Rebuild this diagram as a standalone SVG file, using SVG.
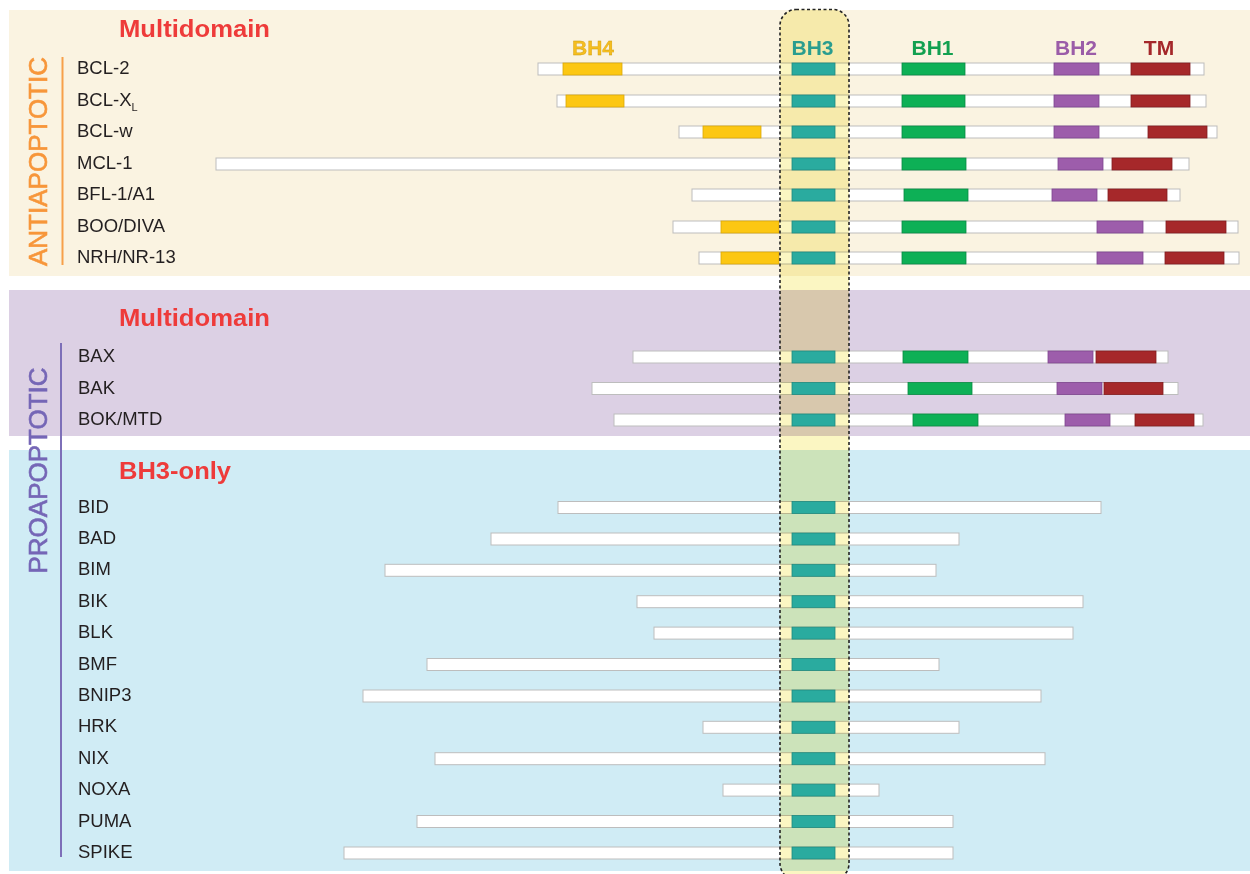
<svg xmlns="http://www.w3.org/2000/svg" width="1250" height="874" viewBox="0 0 1250 874">
<style>
.bar{fill:#fff;stroke:#bdbdbd;stroke-width:1}
.bh4{fill:#fcc713;stroke:#d9a80a;stroke-width:0.8}
.bh3{fill:#2aab9f;stroke:#1e8a80;stroke-width:0.8}
.bh1{fill:#0db056;stroke:#0a8a44;stroke-width:0.8}
.bh2{fill:#9d5dab;stroke:#7e4690;stroke-width:0.8}
.tm{fill:#a6282a;stroke:#831c1e;stroke-width:0.8}
.lbl{font-family:"Liberation Sans",Arial,sans-serif;font-size:18.5px;fill:#231f20}
.hdr{font-family:"Liberation Sans",Arial,sans-serif;font-size:24px;font-weight:bold;fill:#ee3b3a}
.dom{font-family:"Liberation Sans",Arial,sans-serif;font-size:21px;font-weight:bold;text-anchor:middle}
.side{font-family:"Liberation Sans",Arial,sans-serif;font-size:26px;text-anchor:middle;stroke-width:0.6}
</style>
<rect width="1250" height="874" fill="#fff"/>
<g id="panels">
<rect x="9" y="10" width="1241" height="266" fill="#faf3e1"/>
<rect x="9" y="290" width="1241" height="146" fill="#dcd0e4"/>
<rect x="9" y="450" width="1241" height="421" fill="#d0ecf5"/>
</g>
<g id="headers">
<text class="hdr" x="119" y="37" textLength="151" lengthAdjust="spacingAndGlyphs">Multidomain</text>
<text class="hdr" x="119" y="326" textLength="151" lengthAdjust="spacingAndGlyphs">Multidomain</text>
<text class="hdr" x="119" y="479" textLength="112" lengthAdjust="spacingAndGlyphs">BH3-only</text>
</g>
<g id="side-labels">
<line x1="62.5" y1="57" x2="62.5" y2="265" stroke="#f7a04a" stroke-width="2"/>
<text class="side" fill="#f7963a" stroke="#f7963a" transform="translate(46.5,161.5) rotate(-90)">ANTIAPOPTOTIC</text>
<line x1="61" y1="343" x2="61" y2="857" stroke="#7d6fb8" stroke-width="2"/>
<text class="side" fill="#7566b6" stroke="#7566b6" transform="translate(46.5,470.5) rotate(-90)">PROAPOPTOTIC</text>
</g>
<g id="bars">
<g id="BCL-2"><rect class="bar" x="538" y="63" width="666" height="12"/><rect class="bh4" x="563" y="63" width="59" height="12"/><rect class="bh1" x="902" y="63" width="63" height="12"/><rect class="bh2" x="1054" y="63" width="45" height="12"/><rect class="tm" x="1131" y="63" width="59" height="12"/></g>
<g id="BCL-XL"><rect class="bar" x="557" y="95" width="649" height="12"/><rect class="bh4" x="566" y="95" width="58" height="12"/><rect class="bh1" x="902" y="95" width="63" height="12"/><rect class="bh2" x="1054" y="95" width="45" height="12"/><rect class="tm" x="1131" y="95" width="59" height="12"/></g>
<g id="BCL-w"><rect class="bar" x="679" y="126" width="538" height="12"/><rect class="bh4" x="703" y="126" width="58" height="12"/><rect class="bh1" x="902" y="126" width="63" height="12"/><rect class="bh2" x="1054" y="126" width="45" height="12"/><rect class="tm" x="1148" y="126" width="59" height="12"/></g>
<g id="MCL-1"><rect class="bar" x="216" y="158" width="973" height="12"/><rect class="bh1" x="902" y="158" width="64" height="12"/><rect class="bh2" x="1058" y="158" width="45" height="12"/><rect class="tm" x="1112" y="158" width="60" height="12"/></g>
<g id="BFL-1"><rect class="bar" x="692" y="189" width="488" height="12"/><rect class="bh1" x="904" y="189" width="64" height="12"/><rect class="bh2" x="1052" y="189" width="45" height="12"/><rect class="tm" x="1108" y="189" width="59" height="12"/></g>
<g id="BOO"><rect class="bar" x="673" y="221" width="565" height="12"/><rect class="bh4" x="721" y="221" width="58" height="12"/><rect class="bh1" x="902" y="221" width="64" height="12"/><rect class="bh2" x="1097" y="221" width="46" height="12"/><rect class="tm" x="1166" y="221" width="60" height="12"/></g>
<g id="NRH"><rect class="bar" x="699" y="252" width="540" height="12"/><rect class="bh4" x="721" y="252" width="58" height="12"/><rect class="bh1" x="902" y="252" width="64" height="12"/><rect class="bh2" x="1097" y="252" width="46" height="12"/><rect class="tm" x="1165" y="252" width="59" height="12"/></g>
<g id="BAX"><rect class="bar" x="633" y="351" width="535" height="12"/><rect class="bh1" x="903" y="351" width="65" height="12"/><rect class="bh2" x="1048" y="351" width="45" height="12"/><rect class="tm" x="1096" y="351" width="60" height="12"/></g>
<g id="BAK"><rect class="bar" x="592" y="382.5" width="586" height="12"/><rect class="bh1" x="908" y="382.5" width="64" height="12"/><rect class="bh2" x="1057" y="382.5" width="45" height="12"/><rect class="tm" x="1104" y="382.5" width="59" height="12"/></g>
<g id="BOK"><rect class="bar" x="614" y="414" width="589" height="12"/><rect class="bh1" x="913" y="414" width="65" height="12"/><rect class="bh2" x="1065" y="414" width="45" height="12"/><rect class="tm" x="1135" y="414" width="59" height="12"/></g>
<g id="BID"><rect class="bar" x="558" y="501.5" width="543" height="12"/></g>
<g id="BAD"><rect class="bar" x="491" y="533" width="468" height="12"/></g>
<g id="BIM"><rect class="bar" x="385" y="564.3" width="551" height="12"/></g>
<g id="BIK"><rect class="bar" x="637" y="595.7" width="446" height="12"/></g>
<g id="BLK"><rect class="bar" x="654" y="627.1" width="419" height="12"/></g>
<g id="BMF"><rect class="bar" x="427" y="658.5" width="512" height="12"/></g>
<g id="BNIP3"><rect class="bar" x="363" y="690" width="678" height="12"/></g>
<g id="HRK"><rect class="bar" x="703" y="721.3" width="256" height="12"/></g>
<g id="NIX"><rect class="bar" x="435" y="752.7" width="610" height="12"/></g>
<g id="NOXA"><rect class="bar" x="723" y="784.1" width="156" height="12"/></g>
<g id="PUMA"><rect class="bar" x="417" y="815.5" width="536" height="12"/></g>
<g id="SPIKE"><rect class="bar" x="344" y="847" width="609" height="12"/></g>
</g>
<g id="bh3-highlight">
<rect x="780" y="9.5" width="69" height="870" rx="16" fill="#fbf6c2" style="mix-blend-mode:multiply"/>
</g>
<g id="bh3-boxes">
<rect class="bh3" x="792" y="63" width="43" height="12"/>
<rect class="bh3" x="792" y="95" width="43" height="12"/>
<rect class="bh3" x="792" y="126" width="43" height="12"/>
<rect class="bh3" x="792" y="158" width="43" height="12"/>
<rect class="bh3" x="792" y="189" width="43" height="12"/>
<rect class="bh3" x="792" y="221" width="43" height="12"/>
<rect class="bh3" x="792" y="252" width="43" height="12"/>
<rect class="bh3" x="792" y="351" width="43" height="12"/>
<rect class="bh3" x="792" y="382.5" width="43" height="12"/>
<rect class="bh3" x="792" y="414" width="43" height="12"/>
<rect class="bh3" x="792" y="501.5" width="43" height="12"/>
<rect class="bh3" x="792" y="533" width="43" height="12"/>
<rect class="bh3" x="792" y="564.3" width="43" height="12"/>
<rect class="bh3" x="792" y="595.7" width="43" height="12"/>
<rect class="bh3" x="792" y="627.1" width="43" height="12"/>
<rect class="bh3" x="792" y="658.5" width="43" height="12"/>
<rect class="bh3" x="792" y="690" width="43" height="12"/>
<rect class="bh3" x="792" y="721.3" width="43" height="12"/>
<rect class="bh3" x="792" y="752.7" width="43" height="12"/>
<rect class="bh3" x="792" y="784.1" width="43" height="12"/>
<rect class="bh3" x="792" y="815.5" width="43" height="12"/>
<rect class="bh3" x="792" y="847" width="43" height="12"/>
</g>
<g id="bh3-outline">
<rect x="780" y="9.5" width="69" height="870" rx="16" fill="none" stroke="#222" stroke-width="1.6" stroke-dasharray="3,2.5"/>
</g>
<g id="domain-labels">
<text class="dom" x="593" y="55" fill="#f5bd1f" stroke="#c99a10" stroke-width="0.3">BH4</text>
<text class="dom" x="812.5" y="55" fill="#2a9d8f">BH3</text>
<text class="dom" x="932.5" y="55" fill="#12a050">BH1</text>
<text class="dom" x="1076" y="55" fill="#9b5ca8">BH2</text>
<text class="dom" x="1159" y="55" fill="#a4272a">TM</text>
</g>
<g id="gene-labels">
<text class="lbl" x="77" y="74">BCL-2</text>
<text class="lbl" x="77" y="106">BCL-X<tspan font-size="11" dy="5">L</tspan></text>
<text class="lbl" x="77" y="137">BCL-w</text>
<text class="lbl" x="77" y="169">MCL-1</text>
<text class="lbl" x="77" y="200">BFL-1/A1</text>
<text class="lbl" x="77" y="232">BOO/DIVA</text>
<text class="lbl" x="77" y="263">NRH/NR-13</text>
<text class="lbl" x="78" y="362">BAX</text>
<text class="lbl" x="78" y="393.5">BAK</text>
<text class="lbl" x="78" y="425">BOK/MTD</text>
<text class="lbl" x="78" y="512.5">BID</text>
<text class="lbl" x="78" y="544">BAD</text>
<text class="lbl" x="78" y="575.3">BIM</text>
<text class="lbl" x="78" y="606.7">BIK</text>
<text class="lbl" x="78" y="638.1">BLK</text>
<text class="lbl" x="78" y="669.5">BMF</text>
<text class="lbl" x="78" y="701">BNIP3</text>
<text class="lbl" x="78" y="732.3">HRK</text>
<text class="lbl" x="78" y="763.7">NIX</text>
<text class="lbl" x="78" y="795.1">NOXA</text>
<text class="lbl" x="78" y="826.5">PUMA</text>
<text class="lbl" x="78" y="858">SPIKE</text>
</g>
</svg>
